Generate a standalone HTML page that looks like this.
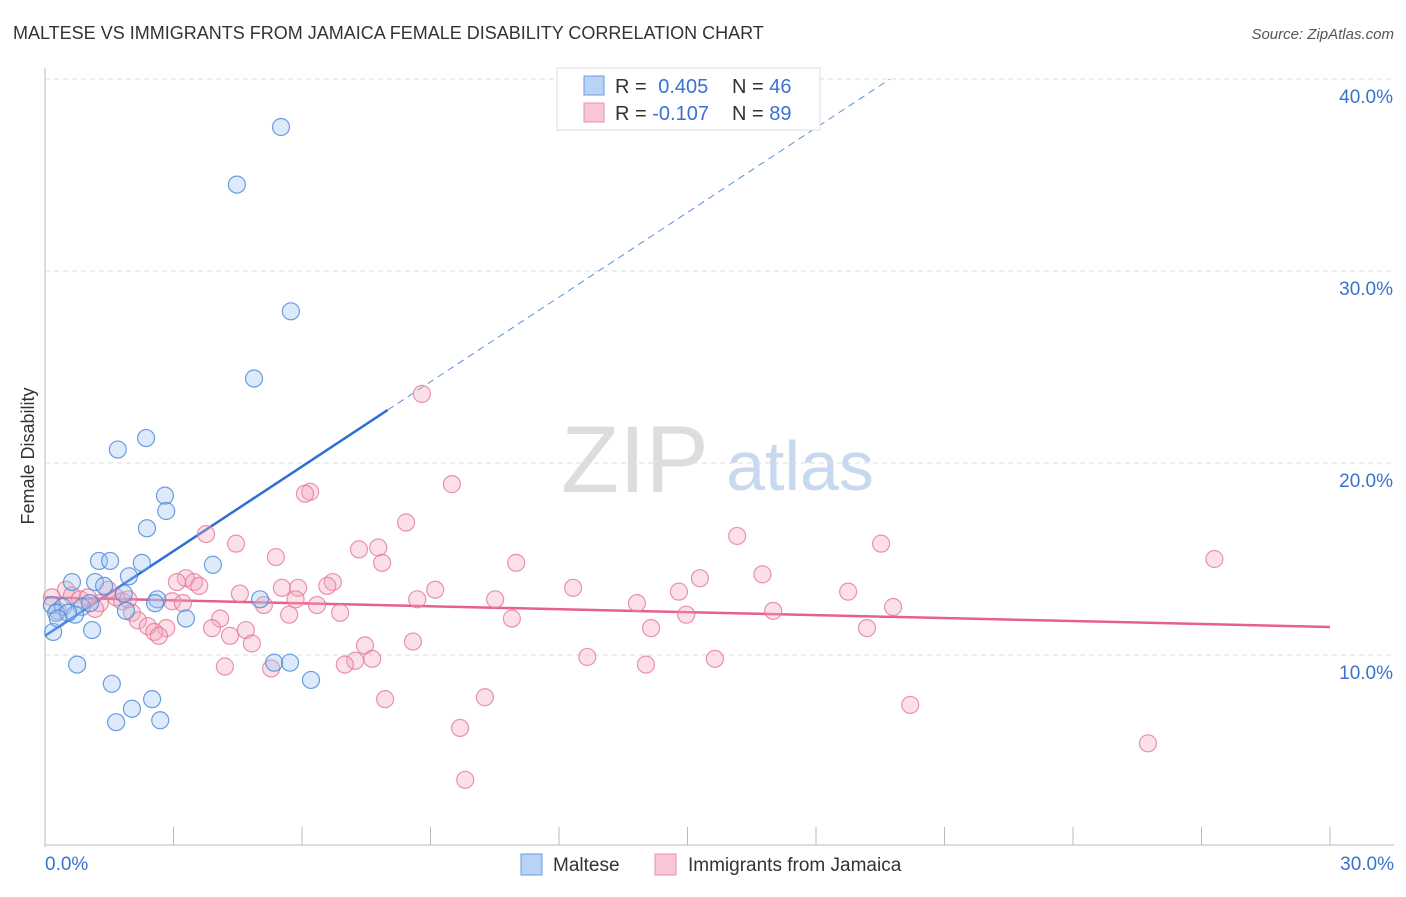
<!DOCTYPE html>
<html><head><meta charset="utf-8"><style>
body{margin:0;background:#fff;font-family:"Liberation Sans",sans-serif;}
svg text{font-family:"Liberation Sans",sans-serif;}
</style></head><body>
<svg id="chart" width="1406" height="892" xmlns="http://www.w3.org/2000/svg">
<text x="13" y="39" font-size="18" fill="#333">MALTESE VS IMMIGRANTS FROM JAMAICA FEMALE DISABILITY CORRELATION CHART</text>
<text x="1394" y="39" font-size="15" fill="#555" font-style="italic" text-anchor="end">Source: ZipAtlas.com</text>
<text x="34" y="456" font-size="18" fill="#333" text-anchor="middle" transform="rotate(-90 34 456)">Female Disability</text>
<g><text x="635" y="492" font-size="95" fill="#ddd" font-family="Liberation Serif" text-anchor="middle">ZIP</text><text x="800" y="490" font-size="70" fill="#c8d8ee" text-anchor="middle">atlas</text></g>
<g id="grid"></g><g id="axes"></g><g id="trends"></g><g id="points"></g>
<g>
<rect x="557" y="68" width="263" height="62" fill="#fff" stroke="#ddd"/>
<rect x="584" y="76" width="20" height="19" fill="#b8d3f5" stroke="#6a9de0"/>
<rect x="584" y="103" width="20" height="19" fill="#f9c6d5" stroke="#e890ab"/>
<text x="615" y="93" font-size="20" fill="#333">R = <tspan fill="#3a72d0" dx="6">0.405</tspan></text>
<text x="732" y="93" font-size="20" fill="#333">N = <tspan fill="#3a72d0">46</tspan></text>
<text x="615" y="120" font-size="20" fill="#333">R = <tspan fill="#3a72d0">-0.107</tspan></text>
<text x="732" y="120" font-size="20" fill="#333">N = <tspan fill="#3a72d0">89</tspan></text>
</g>
<g>
<rect x="521" y="854" width="21" height="21" fill="#b8d3f5" stroke="#6a9de0"/>
<text x="553" y="871" font-size="19" fill="#333">Maltese</text>
<rect x="655" y="854" width="21" height="21" fill="#f9c6d5" stroke="#e890ab"/>
<text x="688" y="871" font-size="19" fill="#333">Immigrants from Jamaica</text>
</g>
</svg>
<script>
const blueX=[5.51,4.48,5.74,4.88,2.36,1.70,2.80,2.83,2.38,1.26,1.52,2.26,3.92,1.96,0.63,1.17,1.38,1.84,2.62,5.02,2.57,0.16,0.42,0.86,1.05,0.26,0.70,1.89,3.29,1.10,0.19,0.75,5.35,5.72,6.21,1.56,2.50,2.03,1.66,2.69,0.54,0.30];
const blueY=[37.5,34.5,27.9,24.4,21.3,20.7,18.3,17.5,16.6,14.9,14.9,14.8,14.7,14.1,13.8,13.8,13.6,13.2,12.9,12.9,12.7,12.6,12.5,12.5,12.7,12.2,12.1,12.3,11.9,11.3,11.2,9.5,9.6,9.6,8.7,8.5,7.7,7.2,6.5,6.6,12.2,11.9];
const pinkX=[8.80,9.50,6.19,6.07,8.43,16.16,19.52,3.76,4.46,7.78,7.33,5.39,11.0,7.87,27.3,16.75,3.29,3.08,3.48,15.29,6.72,6.59,3.60,5.53,5.91,12.33,9.11,14.80,18.75,4.55,0.49,5.85,10.51,8.69,13.82,2.97,3.22,1.28,1.66,1.80,5.11,6.35,19.8,17.0,6.89,2.03,5.70,14.97,10.90,4.09,2.17,2.40,2.83,2.55,3.90,4.69,14.15,19.19,4.32,2.66,8.59,4.83,7.47,7.24,7.64,7.00,12.66,15.64,14.03,4.20,5.28,7.94,10.27,20.2,9.69,25.75,9.81,0.16,0.63,0.82,1.47,0.30,1.17,1.94,1.00];
const pinkY=[23.6,18.9,18.5,18.4,16.9,16.2,15.8,16.3,15.8,15.6,15.5,15.1,14.8,14.8,15.0,14.2,14.0,13.8,13.8,14.0,13.8,13.6,13.6,13.5,13.5,13.5,13.4,13.3,13.3,13.2,13.4,12.9,12.9,12.9,12.7,12.8,12.7,12.7,13.0,12.8,12.6,12.6,12.5,12.3,12.2,12.2,12.1,12.1,11.9,11.9,11.8,11.5,11.4,11.2,11.4,11.3,11.4,11.4,11.0,11.0,10.7,10.6,10.5,9.7,9.8,9.5,9.9,9.8,9.5,9.4,9.3,7.7,7.8,7.4,6.2,5.4,3.5,13.0,13.1,12.9,13.4,12.3,12.4,12.9,13.0];
const blueTrend=[11.0,1.47];  // intercept, slope
const pinkTrend=[13.0,-0.0513];
const yTicks=[10,20,30,40];
const yTickLabels=["10.0%","20.0%","30.0%","40.0%"];
const xTickVals=[0,3,6,9,12,15,18,21,24,27,30];
const NS="http://www.w3.org/2000/svg";
const sx=v=>45+v*1285/30, sy=v=>847-v*19.2;
function mk(parent,tag,attrs){const e=document.createElementNS(NS,tag);for(const k in attrs)e.setAttribute(k,attrs[k]);document.getElementById(parent).appendChild(e);return e;}
yTicks.forEach((t,i)=>{
 const l=mk('grid','line',{x1:45,x2:1394,y1:sy(t),y2:sy(t),stroke:'#ddd','stroke-dasharray':'5,4'});
 
 
 const tx=mk('grid','text',{x:1393,y:sy(t)+24,'font-size':19,fill:'#3a72d0','text-anchor':'end'});tx.textContent=yTickLabels[i];
 
 
});
const ya=mk('axes','line',{x1:45,x2:45,y1:68,y2:847,stroke:'#bbb'});


const xa=mk('axes','line',{x1:45,x2:1394,y1:845,y2:845,stroke:'#bbb'});


xTickVals.forEach(v=>{const t=mk('axes','line',{x1:sx(v),x2:sx(v),y1:827,y2:845,stroke:'#bbb'});
 
 });
const x0=mk('axes','text',{x:45,y:870,'font-size':19,fill:'#3a72d0'});x0.textContent="0.0%";


const x1=mk('axes','text',{x:1394,y:870,'font-size':19,fill:'#3a72d0','text-anchor':'end'});x1.textContent="30.0%";


function dots(X,Y,fill,stroke,name){X.forEach((x,i)=>{const c=mk('points','circle',{cx:sx(x),cy:sy(Y[i]),r:8.5,fill:fill,'fill-opacity':0.35,stroke:stroke,'stroke-width':1.2,'stroke-opacity':0.8});
 
 });}
dots(pinkX,pinkY,'#f4a6bd','#e5799a','point-jamaica');
dots(blueX,blueY,'#9cc2f0','#4a86d8','point-maltese');
const bEnd=(40-blueTrend[0])/blueTrend[1];
const bl=mk('trends','line',{x1:sx(0),y1:sy(blueTrend[0]),x2:sx(8.0),y2:sy(blueTrend[0]+blueTrend[1]*8.0),stroke:'#2c6fd6','stroke-width':2.5});


const bd=mk('trends','line',{x1:sx(8.0),y1:sy(blueTrend[0]+blueTrend[1]*8.0),x2:sx(bEnd),y2:sy(40),stroke:'#5a8fe0','stroke-width':1,'stroke-dasharray':'7,5'});


const pl=mk('trends','line',{x1:sx(0),y1:sy(pinkTrend[0]),x2:sx(30),y2:sy(pinkTrend[0]+pinkTrend[1]*30),stroke:'#e5608a','stroke-width':2.5});


</script>
</body></html>
